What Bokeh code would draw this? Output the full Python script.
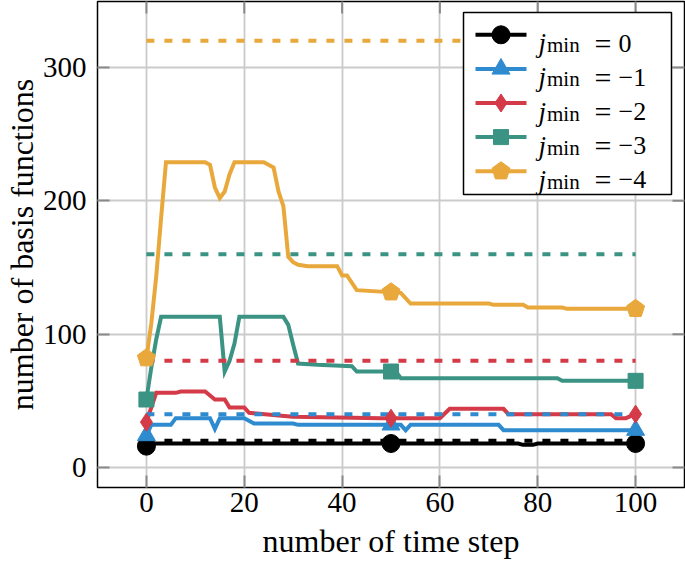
import numpy as np
from bokeh.plotting import figure
from bokeh.models import Range1d, Label, FixedTicker
from bokeh.embed import file_html
from bokeh.resources import INLINE

# ---------------- data ----------------
x_ticks = [0, 20, 40, 60, 80, 100]
y_ticks = [0, 100, 200, 300]
marker_steps = [0, 50, 100]
x_title = "number of time step"
y_title = "number of basis functions"

jmin_labels = ["0", "\u22121", "\u22122", "\u22123", "\u22124"]
colors = ["#000000", "#2f8bd0", "#d43a47", "#3a9383", "#e9a83c"]
max_basis = [20, 40, 80, 160, 320]

t_j0 = [0, 1, 76, 77, 79, 80, 100]
n_j0 = [16, 18, 18, 17, 17, 18, 18]

t_j1 = [0, 1, 5, 6, 13, 14, 15, 20, 22, 30, 31, 52, 53, 54, 72, 73, 100]
n_j1 = [24, 32, 32, 37, 37, 29, 37, 37, 33, 33, 32, 32, 28, 32, 32, 28, 28]

t_j2 = [0, 2, 6, 7, 12, 14, 16, 17, 20, 21, 27, 30, 48, 60, 62, 73, 74, 95, 96, 98, 100]
n_j2 = [34, 56, 56, 57, 57, 51, 51, 45, 45, 41, 39, 38, 37, 37, 44, 44, 40, 40, 37, 37, 40]

t_j3 = [0, 1, 2, 3, 15, 16, 17, 18, 19, 28, 29, 30, 31, 35, 42, 43, 51, 52, 84, 85, 100]
n_j3 = [51, 75, 96, 113, 113, 72, 80, 93, 113, 113, 107, 92, 78, 77, 76, 72, 72, 67, 67, 65, 65]

t_j4 = [0, 1, 2, 3, 4, 12, 13, 14, 15, 16, 17, 18, 24, 26, 27, 28, 29, 30, 31, 33,
        39, 40, 41, 43, 52, 54, 70, 71, 77, 78, 85, 86, 100]
n_j4 = [82, 108, 143, 187, 229, 229, 227, 210, 202, 207, 220, 229, 229, 225, 207, 196, 158, 154, 152, 151,
        151, 144, 144, 133, 131, 123, 123, 122, 122, 120, 120, 119, 119]

series_t = [t_j0, t_j1, t_j2, t_j3, t_j4]
series_n = [n_j0, n_j1, n_j2, n_j3, n_j4]
markers = ["circle", "triangle", "diamond", "square", "pentagon"]
marker_sizes = [18, 18, 18, 15, 19]

# ---------------- layout ----------------
FIG_W, FIG_H = 685, 564
B_LEFT, B_RIGHT, B_TOP, B_BOTTOM = 97, 1, 1, 77
FRAME_W = FIG_W - B_LEFT - B_RIGHT
FRAME_H = FIG_H - B_TOP - B_BOTTOM
SX = 4.8917      # pixels per time step
SY = 4.0 / 3.0   # pixels per basis function
X0 = -10
X1 = X0 + FRAME_W / SX
Y1 = 466 / SY
Y0 = Y1 - FRAME_H / SY
PAGE_L, PAGE_T = B_LEFT, B_TOP


def dx(px):
    return X0 + (px - PAGE_L) / SX


def dy(py):
    return Y1 - (py - PAGE_T) / SY


SERIF = "Liberation Serif"
LW = 4

p = figure(width=FIG_W, height=FIG_H, x_range=Range1d(X0, X1), y_range=Range1d(Y0, Y1),
           output_backend="svg", toolbar_location=None,
           min_border_left=B_LEFT, min_border_right=B_RIGHT,
           min_border_top=B_TOP, min_border_bottom=B_BOTTOM)

p.outline_line_color = "black"
p.outline_line_width = 1.5
p.background_fill_color = "white"
p.border_fill_color = "white"

p.xaxis.ticker = FixedTicker(ticks=x_ticks)
p.yaxis.ticker = FixedTicker(ticks=y_ticks)
p.grid.grid_line_color = "#cbcbcb"
p.grid.grid_line_width = 1.8
TICK_COLOR = "#8a8a8a"
TICK_LEN = 12
for ax in (p.xaxis[0], p.yaxis[0]):
    ax.axis_line_color = None
    ax.major_tick_in = TICK_LEN
    ax.major_tick_out = 0
    ax.minor_tick_line_color = None
    ax.major_tick_line_color = TICK_COLOR
    ax.major_tick_line_width = 2
    ax.major_label_text_font = SERIF
    ax.major_label_text_font_size = "29px"
    ax.major_label_text_color = "black"
    ax.axis_label_text_font = SERIF
    ax.axis_label_text_font_size = "32px"
    ax.axis_label_text_font_style = "normal"
    ax.axis_label_text_color = "black"

p.xaxis.axis_label = x_title
p.yaxis.axis_label = y_title
p.xaxis.major_label_standoff = 5
p.xaxis.axis_label_standoff = 8
p.yaxis.major_label_standoff = 11
p.yaxis.axis_label_standoff = 0

# mirrored ticks on the top and right edges of the frame
p.segment(x0=x_ticks, x1=x_ticks, y0=[Y1] * len(x_ticks), y1=[Y1 - TICK_LEN / SY] * len(x_ticks),
          line_color=TICK_COLOR, line_width=2)
p.segment(x0=[X1] * len(y_ticks), x1=[X1 - TICK_LEN / SX] * len(y_ticks), y0=y_ticks, y1=y_ticks,
          line_color=TICK_COLOR, line_width=2)


def pentagon_patches(xs, ys, r_px):
    ang = np.deg2rad(np.arange(5) * 72.0)
    pxs = [list(x + r_px * np.sin(ang) / SX) for x in xs]
    pys = [list(y + r_px * np.cos(ang) / SY) for y in ys]
    return pxs, pys


# solid lines
for t, n, c in zip(series_t, series_n, colors):
    p.line(t, n, line_color=c, line_width=LW, line_join="miter")

# dashed maximum lines
for m, c in zip(max_basis, colors):
    p.line([x_ticks[0], x_ticks[-1]], [m, m], line_color=c, line_width=LW, line_dash="8 10")

# markers
for t, n, c, mk, sz in zip(series_t, series_n, colors, markers, marker_sizes):
    mx = marker_steps
    my = list(np.interp(marker_steps, t, n))
    if mk == "pentagon":
        pxs, pys = pentagon_patches(mx, my, sz / 2)
        p.patches(pxs, pys, fill_color=c, line_color=c, line_width=1)
    else:
        p.scatter(mx, my, marker=mk, size=sz, fill_color=c, line_color=c)

# ---------------- legend (hand drawn to allow sub-scripts) ----------------
LEG_L, LEG_R, LEG_T, LEG_B = 463, 671, 12, 194
p.quad(left=[dx(LEG_L)], right=[dx(LEG_R)], top=[dy(LEG_T)], bottom=[dy(LEG_B)],
       fill_color="white", line_color="black", line_width=1.5)

ROW0, ROW_STEP = 34.3, 34.1
for i, (lab, c, mk, sz) in enumerate(zip(jmin_labels, colors, markers, marker_sizes)):
    ry = ROW0 + i * ROW_STEP
    p.line([dx(475), dx(526)], [dy(ry), dy(ry)], line_color=c, line_width=LW)
    if mk == "pentagon":
        pxs, pys = pentagon_patches([dx(500.5)], [dy(ry)], sz / 2)
        p.patches(pxs, pys, fill_color=c, line_color=c, line_width=1)
    else:
        p.scatter([dx(500.5)], [dy(ry)], marker=mk, size=sz, fill_color=c, line_color=c)
    p.add_layout(Label(x=dx(538), y=dy(ry + 8.5), text="j", text_font=SERIF,
                       text_font_style="italic", text_font_size="27px",
                       text_baseline="alphabetic", text_align="left", text_color="black"))
    p.add_layout(Label(x=dx(546.5), y=dy(ry + 10.5), text="min", text_font=SERIF,
                       text_font_size="21px", text_baseline="alphabetic",
                       text_align="left", text_color="black"))
    p.add_layout(Label(x=dx(602.5), y=dy(ry + 8.5), text="=", text_font=SERIF,
                       text_font_size="30px", text_baseline="alphabetic",
                       text_align="center", text_color="black"))
    p.add_layout(Label(x=dx(618), y=dy(ry + 8.5), text=lab, text_font=SERIF,
                       text_font_size="26px", text_baseline="alphabetic",
                       text_align="left", text_color="black"))

open("out.html", "w").write(file_html(p, INLINE))
